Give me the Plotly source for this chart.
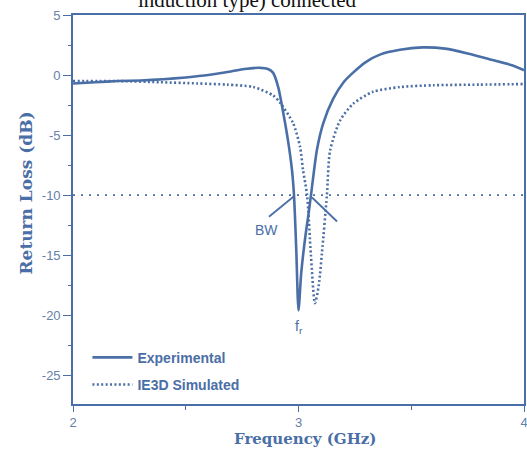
import plotly.graph_objects as go

# Measured return loss (dB) vs frequency (GHz)
exp_freq = [2.00, 2.10, 2.20, 2.30, 2.40, 2.50, 2.60, 2.70, 2.76, 2.83, 2.865, 2.887,
            2.91, 2.927, 2.953, 2.971, 2.98, 2.99, 3.00, 3.012, 3.03, 3.045, 3.058,
            3.082, 3.11, 3.153, 3.20, 3.242, 3.30, 3.361, 3.45, 3.55, 3.65,
            3.75, 3.85, 3.95, 4.00]
exp_rl = [-0.7, -0.6, -0.5, -0.45, -0.35, -0.2, 0.0, 0.3, 0.5, 0.6, 0.5, 0.2,
          -1.0, -2.6, -5.4, -7.9, -10.0, -14.5, -19.6, -16.5, -13.5, -11.5, -9.6,
          -6.2, -4.0, -2.0, -0.6, 0.2, 1.1, 1.7, 2.1, 2.3, 2.2,
          1.8, 1.3, 0.8, 0.4]

# IE3D simulated return loss (dB)
sim_freq = [2.00, 2.20, 2.386, 2.55, 2.683, 2.80, 2.887, 2.918, 2.976, 3.007, 3.02,
            3.038, 3.055, 3.073, 3.09, 3.104, 3.126, 3.14, 3.184, 3.242, 3.33,
            3.45, 3.60, 3.80, 4.00]
sim_rl = [-0.5, -0.5, -0.6, -0.7, -0.8, -1.0, -1.7, -2.3, -4.0, -6.0, -7.9,
          -10.0, -15.0, -19.0, -17.5, -14.8, -10.0, -6.3, -3.8, -2.4, -1.4,
          -1.0, -0.85, -0.8, -0.75]

# -10 dB bandwidth reference
ref_freq = [2.0, 4.0]
ref_rl = [-10.0, -10.0]

# BW marker leaders (from label to the -10 dB crossings)
bw_left_freq = [2.869, 2.98]
bw_left_rl = [-11.8, -10.1]
bw_right_freq = [3.06, 3.171]
bw_right_rl = [-10.2, -12.2]

x_ticks = [2, 3, 4]
y_ticks = [5, 0, -5, -10, -15, -20, -25]

BLUE = "#4a6ea6"
TICK = "#6680a8"

fig = go.Figure()

fig.add_trace(go.Scatter(
    x=ref_freq, y=ref_rl, mode="lines", showlegend=False, hoverinfo="skip",
    line=dict(color=BLUE, width=1.6, dash="2px,6px"),
))
fig.add_trace(go.Scatter(
    x=exp_freq, y=exp_rl, mode="lines", name="Experimental", legendgroup="a",
    line=dict(color=BLUE, width=2.6, shape="spline", smoothing=0.7),
))
fig.add_trace(go.Scatter(
    x=sim_freq, y=sim_rl, mode="lines", name="IE3D Simulated", legendgroup="b",
    line=dict(color=BLUE, width=2.6, shape="spline", smoothing=0.7, dash="2px,2.4px"),
))
for fx, fy in ((bw_left_freq, bw_left_rl), (bw_right_freq, bw_right_rl)):
    fig.add_trace(go.Scatter(
        x=fx, y=fy, mode="lines", showlegend=False, hoverinfo="skip",
        line=dict(color=BLUE, width=1.8),
    ))

fig.add_annotation(x=2.86, y=-12.9, text="BW", showarrow=False,
                   font=dict(family="Liberation Sans, Arial", size=14, color=BLUE))
fig.add_annotation(x=3.0, y=-21.0, text="f<sub>r</sub>", showarrow=False,
                   font=dict(family="Liberation Sans, Arial", size=14, color=BLUE))

# axis titles
fig.add_annotation(xref="paper", yref="paper", x=0.515, y=-0.09, yanchor="middle",
                   text="<b>Frequency (GHz)</b>", showarrow=False,
                   font=dict(family="DejaVu Serif", size=15, color=BLUE))
fig.add_annotation(xref="paper", yref="paper", x=-0.13, y=0.542, textangle=-90,
                   text="<b>Return Loss (dB)</b>", showarrow=False,
                   font=dict(family="DejaVu Serif", size=17, color=BLUE))

# running text of the page above the figure
fig.add_annotation(xref="paper", yref="paper", x=0.14, xanchor="left", y=1.075,
                   text="induction type) connected", showarrow=False,
                   font=dict(family="Liberation Serif, Times New Roman", size=21, color="#111111"))

fig.update_xaxes(
    range=[2, 4], tickvals=x_ticks, ticktext=[str(v) for v in x_ticks],
    showline=True, linecolor=BLUE, linewidth=1.6, mirror=True,
    ticks="outside", ticklen=6, tickcolor=BLUE, tickwidth=1.2,
    minor=dict(dtick=0.5, ticks="outside", ticklen=4, tickcolor=BLUE, tickwidth=1),
    showgrid=False, zeroline=False, automargin=False, ticklabeloverflow="allow",
    tickfont=dict(family="Liberation Sans, Arial", size=13, color=TICK),
)
fig.update_yaxes(
    range=[-27.4, 5], tickvals=y_ticks, ticktext=[str(v) for v in y_ticks],
    showline=True, linecolor=BLUE, linewidth=1.6, mirror=True,
    ticks="outside", ticklen=8, tickcolor=BLUE, tickwidth=1.2,
    minor=dict(tick0=2.5, dtick=2.5, ticks="outside", ticklen=3, tickcolor=BLUE, tickwidth=1),
    showgrid=False, zeroline=False, automargin=False,
    tickfont=dict(family="Liberation Sans, Arial", size=13, color=TICK),
)

fig.update_layout(
    width=527, height=450,
    margin=dict(l=73, r=3, t=15, b=46, autoexpand=False),
    paper_bgcolor="white", plot_bgcolor="white",
    showlegend=True,
    legend=dict(x=0.032, y=0.16, xanchor="left", yanchor="top",
                bgcolor="rgba(0,0,0,0)", traceorder="grouped", tracegroupgap=6,
                itemwidth=40,
                font=dict(family="Liberation Sans, Arial", size=14, color=BLUE, weight="bold")),
)

fig.write_html("out.html")
